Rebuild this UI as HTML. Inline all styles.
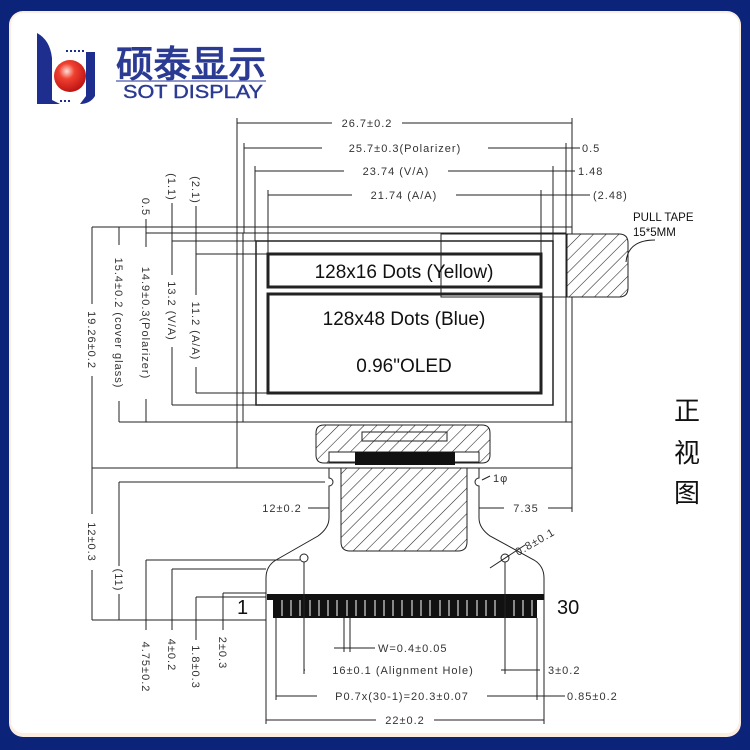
<!DOCTYPE html>
<html><head><meta charset="utf-8"><style>
html,body{margin:0;padding:0;background:#0b2379;}
svg{display:block}
text{font-family:"Liberation Sans","DejaVu Sans",sans-serif;}
.d{font-family:"DejaVu Sans","Liberation Sans",sans-serif;font-size:11px;fill:#333;letter-spacing:1px;}
</style></head><body>
<svg width="750" height="750" viewBox="0 0 750 750" xmlns="http://www.w3.org/2000/svg">
<defs>
<pattern id="h" width="9" height="9" patternUnits="userSpaceOnUse" patternTransform="rotate(45)">
<rect width="9" height="9" fill="#fff"/><line x1="0" y1="0" x2="0" y2="9" stroke="#222" stroke-width="1.1"/>
</pattern>
<radialGradient id="rg" cx="0.4" cy="0.35" r="0.7"><stop offset="0" stop-color="#fde0d8"/><stop offset="0.35" stop-color="#f04030"/><stop offset="1" stop-color="#b81010"/></radialGradient>
</defs>
<rect width="750" height="750" fill="#0b2379"/>
<rect x="9" y="11" width="732" height="726" rx="14" fill="#fbeee0"/>
<rect x="11" y="13" width="728" height="720" rx="12" fill="#fff"/>

<!-- logo -->
<path d="M37 33 Q50 40 52 58 L52 100 L60 104 L37 104 Z" fill="#1d2e8e"/>
<path d="M86 52 L95 52 L95 96 Q90 104 80 104 L86 96 Z" fill="#1d2e8e"/>
<g fill="#1d2e8e"><rect x="66" y="50" width="2" height="2"/><rect x="70" y="50" width="2" height="2"/><rect x="74" y="50" width="2" height="2"/><rect x="78" y="50" width="2" height="2"/><rect x="82" y="50" width="2" height="2"/><rect x="60" y="100" width="2" height="2"/><rect x="64" y="100" width="2" height="2"/><rect x="68" y="100" width="2" height="2"/></g>
<circle cx="70" cy="76" r="16" fill="url(#rg)"/>
<text x="116" y="77" font-family="'Noto Sans CJK SC',sans-serif" font-size="37" font-weight="bold" fill="#2b3a93" textLength="150" lengthAdjust="spacingAndGlyphs">硕泰显示</text>
<line x1="116" y1="81" x2="266" y2="81" stroke="#6a74b8" stroke-width="1.5"/>
<text x="123" y="98" font-size="18" fill="#2b3a93" stroke="#2b3a93" stroke-width="0.4" textLength="140" lengthAdjust="spacingAndGlyphs">SOT DISPLAY</text>

<g stroke="#222" fill="none" stroke-width="1">
<line x1="237" y1="118" x2="237" y2="227"/><line x1="572" y1="118" x2="572" y2="227"/>
<line x1="237" y1="123" x2="572" y2="123"/>
<line x1="244" y1="143" x2="244" y2="233"/><line x1="566" y1="143" x2="566" y2="233"/>
<line x1="244" y1="148" x2="580" y2="148"/>
<line x1="255" y1="166" x2="255" y2="241"/><line x1="553" y1="166" x2="553" y2="241"/>
<line x1="255" y1="171" x2="575" y2="171"/>
<line x1="268" y1="190" x2="268" y2="254"/><line x1="541" y1="190" x2="541" y2="254"/>
<line x1="268" y1="195" x2="590" y2="195"/>
<line x1="92" y1="227" x2="237" y2="227"/>
<line x1="146" y1="233" x2="243" y2="233"/>
<line x1="172" y1="241" x2="256" y2="241"/>
<line x1="196" y1="254" x2="268" y2="254"/>
<line x1="119" y1="422" x2="237" y2="422"/>
<line x1="172" y1="405" x2="256" y2="405"/>
<line x1="196" y1="393" x2="268" y2="393"/>
<line x1="92" y1="227" x2="92" y2="620"/>
<line x1="119" y1="227" x2="119" y2="422"/>
<line x1="146" y1="200" x2="146" y2="422"/>
<line x1="172" y1="190" x2="172" y2="405"/>
<line x1="196" y1="195" x2="196" y2="393"/>
<line x1="92" y1="468" x2="237" y2="468"/>
<rect x="237" y="227" width="335" height="241"/>
<line x1="237" y1="422" x2="572" y2="422"/>
<line x1="243" y1="233" x2="566" y2="233"/>
<line x1="243" y1="233" x2="243" y2="422"/><line x1="566" y1="233" x2="566" y2="422"/>
<rect x="256" y="241" width="297" height="164" stroke-width="1.5"/>
<rect x="268" y="254" width="273" height="33" stroke-width="3"/>
<rect x="268" y="294" width="273" height="99" stroke-width="3"/>
<rect x="441" y="234" width="126" height="63"/>
</g>
<path d="M567 234 L619 234 Q628 234 628 243 L628 288 Q628 297 619 297 L567 297 Z" fill="url(#h)" stroke="#222"/>
<path d="M626 262 Q628 240 655 240" fill="none" stroke="#222"/>
<text x="633" y="221" font-size="11.5" fill="#111">PULL TAPE</text>
<text x="633" y="236" font-size="11.5" fill="#111">15*5MM</text>

<text x="404" y="278" font-size="19" text-anchor="middle" fill="#111">128x16 Dots (Yellow)</text>
<text x="404" y="325" font-size="19" text-anchor="middle" fill="#111">128x48 Dots (Blue)</text>
<text x="404" y="372" font-size="19" text-anchor="middle" fill="#111">0.96"OLED</text>

<path d="M316 433 Q316 425 324 425 L482 425 Q490 425 490 433 L490 455 Q490 463 482 463 L324 463 Q316 463 316 455 Z" fill="url(#h)" stroke="#222"/>
<rect x="362" y="432" width="85" height="9" fill="url(#h)" stroke="#222"/>
<rect x="329" y="452" width="150" height="10" fill="#fff" stroke="#222"/>
<rect x="355" y="452" width="100" height="13" fill="#111"/>
<path d="M329 468 L329 478 A4 4 0 0 1 329 486 L329 518 Q329 528 318 536 L276 560 Q266 566 266 578 L266 620" fill="#fff" stroke="#222"/>
<path d="M479 468 L479 478 A4 4 0 0 0 479 486 L479 518 Q479 528 490 536 L534 560 Q544 566 544 578 L544 620" fill="#fff" stroke="#222"/>
<path d="M341 468 L467 468 L467 542 Q467 551 458 551 L350 551 Q341 551 341 542 Z" fill="url(#h)" stroke="#222"/>
<circle cx="304" cy="558" r="4" fill="#fff" stroke="#222"/>
<circle cx="505" cy="558" r="4" fill="#fff" stroke="#222"/>
<rect x="267" y="594" width="277" height="6" fill="#111"/>
<rect x="273" y="594" width="264" height="24" fill="#111"/>
<g stroke="#fff" stroke-width="1">
<line x1="282" y1="600" x2="282" y2="616"/><line x1="291" y1="600" x2="291" y2="616"/><line x1="300" y1="600" x2="300" y2="616"/><line x1="310" y1="600" x2="310" y2="616"/><line x1="319" y1="600" x2="319" y2="616"/><line x1="328" y1="600" x2="328" y2="616"/><line x1="337" y1="600" x2="337" y2="616"/><line x1="347" y1="600" x2="347" y2="616"/><line x1="356" y1="600" x2="356" y2="616"/><line x1="365" y1="600" x2="365" y2="616"/><line x1="375" y1="600" x2="375" y2="616"/><line x1="384" y1="600" x2="384" y2="616"/><line x1="393" y1="600" x2="393" y2="616"/><line x1="402" y1="600" x2="402" y2="616"/><line x1="412" y1="600" x2="412" y2="616"/><line x1="421" y1="600" x2="421" y2="616"/><line x1="430" y1="600" x2="430" y2="616"/><line x1="440" y1="600" x2="440" y2="616"/><line x1="449" y1="600" x2="449" y2="616"/><line x1="458" y1="600" x2="458" y2="616"/><line x1="467" y1="600" x2="467" y2="616"/><line x1="477" y1="600" x2="477" y2="616"/><line x1="486" y1="600" x2="486" y2="616"/><line x1="495" y1="600" x2="495" y2="616"/><line x1="505" y1="600" x2="505" y2="616"/><line x1="514" y1="600" x2="514" y2="616"/><line x1="523" y1="600" x2="523" y2="616"/><line x1="532" y1="600" x2="532" y2="616"/>
</g>
<text x="237" y="614" font-size="20" fill="#111">1</text>
<text x="557" y="614" font-size="20" fill="#111">30</text>

<g stroke="#222" fill="none" stroke-width="1">
<line x1="92" y1="620" x2="266" y2="620"/>
<line x1="119" y1="482" x2="325" y2="482"/><line x1="119" y1="482" x2="119" y2="620"/>
<line x1="146" y1="560" x2="300" y2="560"/><line x1="146" y1="560" x2="146" y2="630"/>
<line x1="172" y1="569" x2="266" y2="569"/><line x1="172" y1="569" x2="172" y2="630"/>
<line x1="196" y1="597" x2="266" y2="597"/><line x1="196" y1="597" x2="196" y2="640"/>
<line x1="223" y1="593" x2="266" y2="593"/><line x1="223" y1="593" x2="223" y2="630"/>
<line x1="305" y1="508" x2="329" y2="508"/><line x1="479" y1="508" x2="572" y2="508"/>
<line x1="572" y1="468" x2="572" y2="512"/>
<line x1="344" y1="618" x2="344" y2="652"/><line x1="350" y1="618" x2="350" y2="652"/>
<line x1="334" y1="648" x2="375" y2="648"/>
<line x1="304" y1="562" x2="304" y2="674"/><line x1="505" y1="562" x2="505" y2="674"/>
<line x1="304" y1="670" x2="540" y2="670"/>
<line x1="276" y1="618" x2="276" y2="700"/><line x1="537" y1="618" x2="537" y2="700"/>
<line x1="276" y1="696" x2="565" y2="696"/>
<line x1="266" y1="620" x2="266" y2="724"/><line x1="544" y1="620" x2="544" y2="724"/>
<line x1="266" y1="720" x2="544" y2="720"/>
<path d="M482 480 L490 476"/>
<line x1="490" y1="568" x2="525" y2="545"/>
</g>

<g class="d">
<rect x="332" y="116" width="70" height="13" fill="#fff"/><text x="367" y="127" text-anchor="middle">26.7±0.2</text>
<rect x="322" y="141" width="166" height="13" fill="#fff"/><text x="405" y="152" text-anchor="middle">25.7±0.3(Polarizer)</text>
<text x="582" y="152">0.5</text>
<rect x="344" y="164" width="104" height="13" fill="#fff"/><text x="396" y="175" text-anchor="middle">23.74 (V/A)</text>
<text x="578" y="175">1.48</text>
<rect x="352" y="188" width="104" height="13" fill="#fff"/><text x="404" y="199" text-anchor="middle">21.74 (A/A)</text>
<text x="593" y="199">(2.48)</text>
<rect x="256" y="501" width="52" height="13" fill="#fff"/><text x="282" y="512" text-anchor="middle">12±0.2</text>
<rect x="504" y="501" width="44" height="13" fill="#fff"/><text x="526" y="512" text-anchor="middle">7.35</text>
<text x="493" y="482">1φ</text>
<text x="0" y="0" transform="translate(518,556) rotate(-30)">0.8±0.1</text>
<rect x="376" y="641" width="84" height="13" fill="#fff"/><text x="378" y="652">W=0.4±0.05</text>
<rect x="305" y="663" width="196" height="13" fill="#fff"/><text x="403" y="674" text-anchor="middle">16±0.1 (Alignment Hole)</text>
<text x="548" y="674">3±0.2</text>
<rect x="317" y="689" width="170" height="13" fill="#fff"/><text x="402" y="700" text-anchor="middle">P0.7x(30-1)=20.3±0.07</text>
<text x="567" y="700">0.85±0.2</text>
<rect x="376" y="713" width="58" height="13" fill="#fff"/><text x="405" y="724" text-anchor="middle">22±0.2</text>
</g>
<g class="d">
<g transform="translate(92,340) rotate(90)"><rect x="-36" y="-7" width="72" height="13" fill="#fff"/><text x="0" y="4" text-anchor="middle">19.26±0.2</text></g>
<g transform="translate(119,323) rotate(90)"><rect x="-78" y="-7" width="156" height="13" fill="#fff"/><text x="0" y="4" text-anchor="middle">15.4±0.2 (cover glass)</text></g>
<g transform="translate(146,323) rotate(90)"><rect x="-76" y="-7" width="152" height="13" fill="#fff"/><text x="0" y="4" text-anchor="middle">14.9±0.3(Polarizer)</text></g>
<g transform="translate(146,207) rotate(90)"><rect x="-12" y="-7" width="24" height="13" fill="#fff"/><text x="0" y="4" text-anchor="middle">0.5</text></g>
<g transform="translate(172,311) rotate(90)"><rect x="-36" y="-7" width="72" height="13" fill="#fff"/><text x="0" y="4" text-anchor="middle">13.2 (V/A)</text></g>
<g transform="translate(172,187) rotate(90)"><rect x="-16" y="-7" width="32" height="13" fill="#fff"/><text x="0" y="4" text-anchor="middle">(1.1)</text></g>
<g transform="translate(196,331) rotate(90)"><rect x="-36" y="-7" width="72" height="13" fill="#fff"/><text x="0" y="4" text-anchor="middle">11.2 (A/A)</text></g>
<g transform="translate(196,190) rotate(90)"><rect x="-16" y="-7" width="32" height="13" fill="#fff"/><text x="0" y="4" text-anchor="middle">(2.1)</text></g>
<g transform="translate(92,542) rotate(90)"><rect x="-28" y="-7" width="56" height="13" fill="#fff"/><text x="0" y="4" text-anchor="middle">12±0.3</text></g>
<g transform="translate(119,580) rotate(90)"><rect x="-14" y="-7" width="28" height="13" fill="#fff"/><text x="0" y="4" text-anchor="middle">(11)</text></g>
<g transform="translate(146,667) rotate(90)"><text x="0" y="4" text-anchor="middle">4.75±0.2</text></g>
<g transform="translate(172,655) rotate(90)"><text x="0" y="4" text-anchor="middle">4±0.2</text></g>
<g transform="translate(196,667) rotate(90)"><text x="0" y="4" text-anchor="middle">1.8±0.3</text></g>
<g transform="translate(223,653) rotate(90)"><text x="0" y="4" text-anchor="middle">2±0.3</text></g>
</g>

<g font-family="'Noto Sans CJK SC',sans-serif" font-size="26" fill="#111" text-anchor="middle">
<text x="687" y="420">正</text><text x="687" y="462">视</text><text x="687" y="502">图</text>
</g>
</svg>
</body></html>
